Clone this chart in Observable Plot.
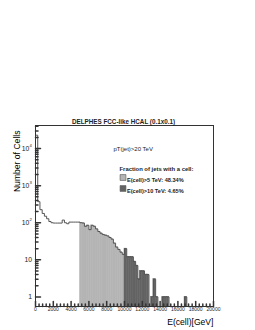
<!DOCTYPE html>
<html><head><meta charset="utf-8">
<script src="https://cdn.jsdelivr.net/npm/d3@7"></script>
<script src="https://cdn.jsdelivr.net/npm/@observablehq/plot@0.6"></script>
<style>body{margin:0;background:#fff}</style>
</head><body><div id="chart"></div>
<script>
const binWidth = 250;
const counts = [23000,370,225,178,150,128,108,100,98,98,
  98,98,118,100,94,104,104,104,104,104,
  100,98,80,85,65,85,80,68,58,52,
  48,46,44,40,36,28,22,19,16,14,
  20,12,12,12,9,7,3,5,5,4,
  4,0,1,3,1,0,0,1,1,1,
  0,0,0,0,0,0,0,1,0,0,
  0,0,0,0,0,0,0,0,0,0];
const cut5 = 5000, cut10 = 10000;
const yTickValues = [1, 10, 100, 1000, 10000];
const yTickBase = ["1", "10", "10", "10", "10"];
const yTickExp = ["", "", "2", "3", "4"];
const xTickValues = d3.range(0, 20001, 2000);
const titleText = "DELPHES FCC-like HCAL (0.1x0.1)";
const legendHeader = "pT(jet)>20 TeV";
const legendSub = "Fraction of jets with a cell:";
const legendItems = ["E(cell)>5 TeV: 48.34%", "E(cell)>10 TeV: 4.65%"];
const legendKeys = ["light", "dark"];

const bins = counts.map((c, i) => ({x1: i*binWidth, x2: (i+1)*binWidth, c}));
const filled = bins.filter(b => b.c > 0 && b.x1 >= cut5)
  .map(b => ({...b, cat: b.x1 >= cut10 ? "dark" : "light"}));
const tiny = 1e-3;
const step = [{x: 0, y: tiny}];
bins.forEach(b => { const v = b.c > 0 ? b.c : tiny; step.push({x: b.x1, y: v}, {x: b.x2, y: v}); });
step.push({x: 20000, y: tiny});

const yMinor = [];
for (let e = 0; e < 5; e++) for (let k = 2; k <= 9; k++) if (k * 10**e < 42000) yMinor.push(k * 10**e);
const xMinor = d3.range(0, 20001, 400).filter(v => v % 2000 !== 0);
const tickShape = {draw(ctx, l) { ctx.moveTo(0, 0); ctx.lineTo(0, -l); }};
const font = "Liberation Sans, Arial, Helvetica, sans-serif";
const ink = "#222";
const yBaseTicks = yTickValues.map((v, i) => ({v, t: yTickBase[i], hasExp: yTickExp[i] !== ""}));
const yExpTicks = yTickValues.map((v, i) => ({v, t: yTickExp[i]})).filter(d => d.t !== "");

const legendMarks = [];
legendItems.forEach((t, i) => {
  legendMarks.push(Plot.text([t], {text: d => d, frameAnchor: "top-left", textAnchor: "start", dx: 91.5, dy: 52.5 + i*11, fontSize: 5.6, fontWeight: "bold", fill: ink}));
  legendMarks.push(Plot.dot([legendKeys[i]], {frameAnchor: "top-left", dx: 87.5, dy: 52 + i*11, symbol: "square", r: 3.3, fill: d => d, stroke: "#555", strokeWidth: 0.6}));
});

const chart = Plot.plot({
  width: 255, height: 330,
  marginLeft: 35, marginRight: 42, marginTop: 125, marginBottom: 24,
  style: {fontFamily: font, background: "#fff"},
  x: {domain: [0, 20000], axis: null},
  y: {type: "log", domain: [0.55, 42000], axis: null},
  color: {domain: legendKeys, range: ["#b4b4b4", "#636363"]},
  marks: [
    Plot.rect(filled, {x1: "x1", x2: "x2", y1: tiny, y2: "c", fill: "cat", stroke: "cat", strokeWidth: 0.5, clip: true}),
    Plot.line(step, {x: "x", y: "y", stroke: "#555", strokeWidth: 1, clip: true}),
    Plot.frame({stroke: "#333", strokeWidth: 1}),
    Plot.vector(yTickValues, {y: d => d, frameAnchor: "left", length: 5, rotate: 90, anchor: "start", shape: tickShape, stroke: "#333"}),
    Plot.vector(yMinor, {y: d => d, frameAnchor: "left", length: 2.5, rotate: 90, anchor: "start", shape: tickShape, stroke: "#333"}),
    Plot.vector(xTickValues, {x: d => d, frameAnchor: "bottom", length: 5, rotate: 0, anchor: "start", shape: tickShape, stroke: "#333"}),
    Plot.vector(xMinor, {x: d => d, frameAnchor: "bottom", length: 2.5, rotate: 0, anchor: "start", shape: tickShape, stroke: "#333"}),
    Plot.text(yBaseTicks.filter(d => !d.hasExp), {y: "v", text: "t", frameAnchor: "left", dx: -3.5, textAnchor: "end", fontSize: 6.8, fill: ink}),
    Plot.text(yBaseTicks.filter(d => d.hasExp), {y: "v", text: "t", frameAnchor: "left", dx: -6.2, textAnchor: "end", fontSize: 6.8, fill: ink}),
    Plot.text(yExpTicks, {y: "v", text: "t", frameAnchor: "left", dx: -6, dy: -2.8, textAnchor: "start", fontSize: 4.2, fill: ink}),
    Plot.text(xTickValues, {x: d => d, frameAnchor: "bottom", dy: 4.5, text: d => String(d), fontSize: 5, fill: ink}),
    Plot.text([titleText], {text: d => d, frameAnchor: "top", dy: -6, dx: -1, fontSize: 6.3, fontWeight: "bold", fill: ink}),
    Plot.text(["Number of Cells"], {text: d => d, frameAnchor: "top-left", rotate: -90, textAnchor: "end", dx: -22, dy: 5, fontSize: 8.6, fill: "#000"}),
    Plot.text(["E(cell)[GeV]"], {text: d => d, frameAnchor: "bottom-right", textAnchor: "end", dy: 18, dx: 0, fontSize: 8.6, fill: "#000"}),
    Plot.text([legendHeader], {text: d => d, frameAnchor: "top-left", textAnchor: "start", dx: 78, dy: 21.5, fontSize: 6, fill: ink}),
    Plot.text([legendSub], {text: d => d, frameAnchor: "top-left", textAnchor: "start", dx: 84, dy: 41, fontSize: 5.9, fontWeight: "bold", fill: ink}),
    ...legendMarks
  ]
});
document.getElementById("chart").append(chart);
</script></body></html>
